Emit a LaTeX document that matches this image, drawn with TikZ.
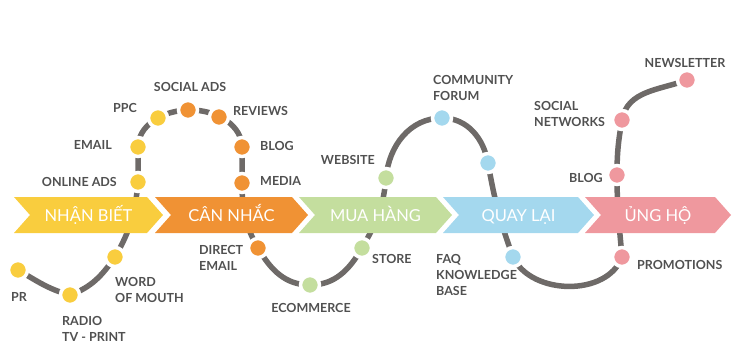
\documentclass[tikz,border=0pt]{standalone}
\usepackage{fontspec}
\setmainfont{Lato}
\usetikzlibrary{positioning}
\definecolor{jyellow}{RGB}{249,205,62}
\definecolor{jorange}{RGB}{240,146,52}
\definecolor{jgreen}{RGB}{196,222,158}
\definecolor{jblue}{RGB}{164,216,238}
\definecolor{jpink}{RGB}{239,152,158}
\definecolor{jroad}{RGB}{110,106,104}
\definecolor{jtext}{RGB}{80,80,80}

\begin{document}
\begin{tikzpicture}[x=1pt, y=1pt,
    road/.style={draw=jroad, line width=5.5pt},
    dot/.style={circle, draw=white, line width=3.5pt, minimum size=19pt, inner sep=0pt},
    lbl/.style={font=\fontsize{12.5}{16}\selectfont\bfseries, text=jtext, inner sep=0pt, align=left},
    stage/.style={font=\fontsize{16.5}{20}\selectfont, text=white, inner sep=0pt, anchor=base}]

\useasboundingbox (0,0) rectangle (740,-346);

% stops along the journey
\coordinate (pr) at (18,-270);
\coordinate (radio) at (70,-295);
\coordinate (word) at (115,-257);
\coordinate (online) at (138,-182);
\coordinate (email) at (138,-147);
\coordinate (ppc) at (158,-118);
\coordinate (socialads) at (188,-110);
\coordinate (reviews) at (219,-117);
\coordinate (blog) at (242,-147);
\coordinate (media) at (242,-183);
\coordinate (direct) at (258,-248);
\coordinate (ecom) at (310,-285);
\coordinate (store) at (362,-248);
\coordinate (website) at (386,-178);
\coordinate (forum) at (442,-118);
\coordinate (qlai) at (488,-163);
\coordinate (faq) at (513,-257);
\coordinate (promo) at (622,-257);
\coordinate (blogb) at (617,-175);
\coordinate (socnet) at (622,-120);
\coordinate (news) at (687,-80);

\draw[road] (pr) to[out=-30,in=165] (radio) to[out=20,in=235] (word)
    to[out=60,in=-95] (online) -- (email)
    arc[start angle=180, end angle=0, x radius=52, y radius=37] -- (media)
    to[out=-90,in=120] (direct) to[out=-60,in=180] (ecom)
    to[out=0,in=-120] (store) to[out=60,in=-95] (website)
    to[out=85,in=180] (forum) to[out=0,in=100] (qlai)
    to[out=-80,in=110] (faq) to[out=-65,in=-110] (promo)
    to[out=95,in=-90] (blogb) to[out=90,in=-100] (socnet)
    to[out=80,in=200] (news);

% stages
\foreach \l/\t/\c/\n/\s in {14/163/jyellow/nhanbiet/NHẬN BIẾT,
    155/308/jorange/cannhac/CÂN NHẮC, 299/452/jgreen/muahang/MUA HÀNG,
    443/594/jblue/quaylai/QUAY LẠI, 585/731/jpink/ungho/ỦNG HỘ} {
  \fill[\c] (\l,-197) -- (\t-16,-197) -- (\t,-215) -- (\t-16,-233)
      -- (\l,-233) -- (\l+16,-215) -- cycle;
  \node[stage] (\n) at ({(\l+\t)/2},-221) {\s};
}

\foreach \p/\c in {pr/jyellow, radio/jyellow, word/jyellow, online/jyellow,
    email/jyellow, ppc/jyellow, socialads/jorange, reviews/jorange,
    blog/jorange, media/jorange, direct/jorange, ecom/jgreen, store/jgreen,
    website/jgreen, forum/jblue, qlai/jblue, faq/jblue, promo/jpink,
    blogb/jpink, socnet/jpink, news/jpink}
  \node[dot, fill=\c] (\p-dot) at (\p) {};

\node[lbl, anchor=west] (lpr) at (11,-297) {PR};
\node[lbl, anchor=west] (lradio) at (62,-328.5) {RADIO\\TV - PRINT};
\node[lbl, anchor=west] (lword) at (115,-289.5) {WORD\\OF MOUTH};
\node[lbl, anchor=east] (lonline) at (117,-182) {ONLINE ADS};
\node[lbl, anchor=east] (lemail) at (112,-145) {EMAIL};
\node[lbl, anchor=east] (lppc) at (137,-108) {PPC};
\node[lbl] (lsocialads) at (190,-86.5) {SOCIAL ADS};
\node[lbl, anchor=west] (lreviews) at (233,-110.5) {REVIEWS};
\node[lbl, anchor=west] (lblog) at (260,-145.5) {BLOG};
\node[lbl, anchor=west] (lmedia) at (260,-181) {MEDIA};
\node[lbl, anchor=west] (ldirect) at (199,-258) {DIRECT\\EMAIL};
\node[lbl] (lecom) at (311,-307.5) {ECOMMERCE};
\node[lbl, anchor=west] (lstore) at (372,-259) {STORE};
\node[lbl, anchor=east] (lweb) at (375,-160) {WEBSITE};
\node[lbl, anchor=west] (lforum) at (433,-88) {COMMUNITY\\FORUM};
\node[lbl, anchor=west] (lfaq) at (436,-275) {FAQ\\KNOWLEDGE\\BASE};
\node[lbl] (lnews) at (685,-62.5) {NEWSLETTER};
\node[lbl, anchor=west] (lsocnet) at (534,-113.5) {SOCIAL\\NETWORKS};
\node[lbl, anchor=east] (lblogb) at (603,-177.5) {BLOG};
\node[lbl, anchor=west] (lpromo) at (637,-264.5) {PROMOTIONS};

\end{tikzpicture}
\end{document}
